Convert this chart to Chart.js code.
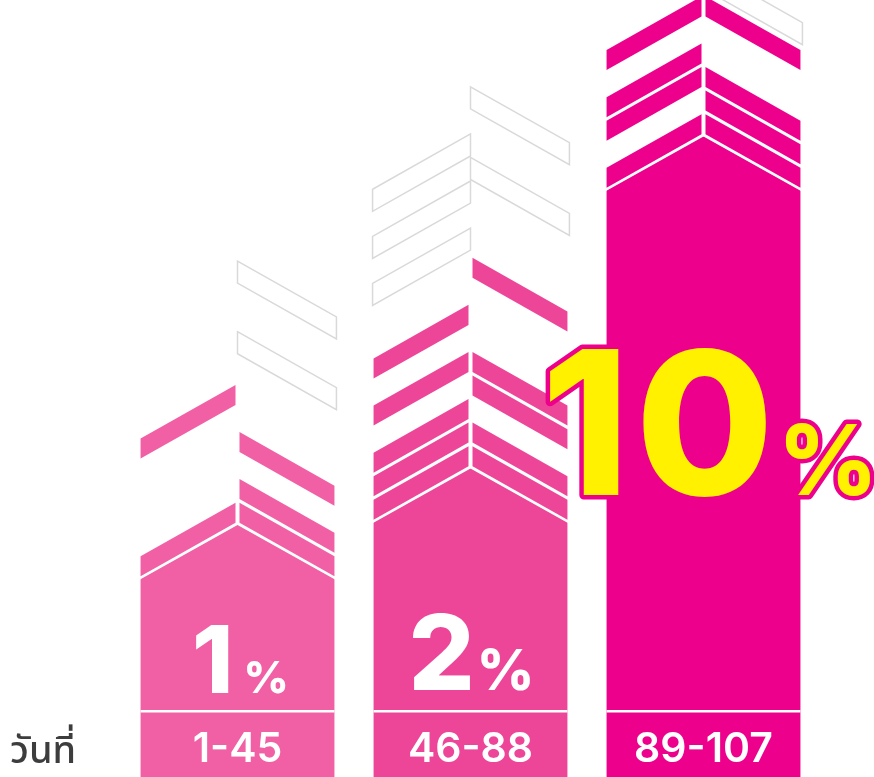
<!DOCTYPE html>
<html>
<head>
<meta charset="utf-8">
<script src="https://cdn.jsdelivr.net/npm/chart.js@4"></script>
<style>
  html, body { margin: 0; padding: 0; background: #fff; }
  #wrap { width: 874px; height: 777px; position: relative; }
</style>
</head>
<body>
<div id="wrap"><canvas id="chart" width="874" height="777"></canvas></div>
<script>
// Day ranges (categories) and the discount printed on each column
const dayRanges = ['1-45', '46-88', '89-107'];
const discounts = [1, 2, 10];
// Height of each solid column up to its chevron peak, in stripe units
const columnLevels = [10.7, 13.1, 27.2];
// Chevron stripes stacked above the peak (1 = first stripe above it)
const leftFilled = [[1, 6], [1, 2, 3, 5, 7], [1, 3, 4, 6]];
const rightFilled = [[1, 2, 4], [1, 2, 4, 5, 9], [1, 2, 3, 6]];
const leftEmpty = [[], [10, 12, 14], []];
const rightEmpty = [[8, 11], [13, 16], [7]];
const axisTitle = 'วันที่';

const colors = ['#F15FA4', '#ED4699', '#EC008C'];
const badgeStyle = [
  { num: 94, pct: 44, gap: 10, lift: 84, dx: 3, spacing: 0, fill: '#fff' },
  { num: 104, pct: 56, gap: 2, lift: 87, dx: 1, spacing: 0, fill: '#fff' },
  { num: 200, pct: 97, gap: 4, lift: 282, dx: 6, spacing: 6, fill: '#FFF100', stroke: '#EC008C' }
];
const SLOPE = 0.565;

function halfStripe(ctx, xc, xe, top, h, inset) {
  const dir = xe < xc ? -1 : 1;
  const x0 = xc + dir * inset;
  const d0 = SLOPE * inset, d1 = SLOPE * Math.abs(xe - xc);
  ctx.beginPath();
  ctx.moveTo(x0, top + d0);
  ctx.lineTo(xe, top + d1);
  ctx.lineTo(xe, top + d1 + h);
  ctx.lineTo(x0, top + d0 + h);
  ctx.closePath();
}

function drawBadge(ctx, i, cx, base) {
  const st = badgeStyle[i];
  const txt = String(discounts[i]);
  ctx.letterSpacing = st.spacing + 'px';
  ctx.font = `800 ${st.num}px Inter`;
  const wn = ctx.measureText(txt).width - st.spacing;
  ctx.letterSpacing = '0px';
  ctx.font = `800 ${st.pct}px Inter`;
  const wp = ctx.measureText('%').width;
  const x = cx - (wn + st.gap + wp) / 2 + st.dx;
  const y = base - st.lift;
  ctx.textAlign = 'left';
  ctx.textBaseline = 'alphabetic';
  const parts = [[txt, st.num, x, st.spacing], ['%', st.pct, x + wn + st.gap, 0]];
  if (st.stroke) {
    ctx.lineJoin = 'round';
    ctx.lineWidth = 9;
    ctx.strokeStyle = st.stroke;
    parts.forEach(([t, s, px, sp]) => {
      ctx.letterSpacing = sp + 'px';
      ctx.font = `800 ${s}px Inter`;
      ctx.strokeText(t, px, y);
    });
  }
  ctx.fillStyle = st.fill;
  parts.forEach(([t, s, px, sp]) => {
    ctx.letterSpacing = sp + 'px';
    ctx.font = `800 ${s}px Inter`;
    ctx.fillText(t, px, y);
  });
  ctx.letterSpacing = '0px';
}

const chevronPlugin = {
  id: 'chevrons',
  afterDatasetsDraw(chart) {
    const ctx = chart.ctx;
    const yScale = chart.scales.y;
    const unit = yScale.getPixelForValue(0) - yScale.getPixelForValue(1);
    const thick = unit * 0.85;
    const meta = chart.getDatasetMeta(0);
    ctx.save();
    meta.data.forEach((bar, i) => {
      const xc = bar.x, hw = bar.width / 2;
      const xl = xc - hw, xr = xc + hw;
      const peak = bar.y, base = bar.base;
      const drop = SLOPE * hw;
      // cut the chevron roof out of the column
      ctx.fillStyle = '#fff';
      ctx.beginPath();
      ctx.moveTo(xl - 1, peak - 2);
      ctx.lineTo(xr + 1, peak - 2);
      ctx.lineTo(xr + 1, peak + drop);
      ctx.lineTo(xc, peak);
      ctx.lineTo(xl - 1, peak + drop);
      ctx.closePath();
      ctx.fill();
      // filled stripes
      ctx.fillStyle = colors[i];
      leftFilled[i].forEach(k => {
        halfStripe(ctx, xc, xl, peak - k * unit, thick, 2);
        ctx.fill();
      });
      rightFilled[i].forEach(k => {
        halfStripe(ctx, xc, xr, peak - k * unit, thick, 2);
        ctx.fill();
      });
      // empty (outlined) stripes
      ctx.strokeStyle = '#D9D9D9';
      ctx.lineWidth = 1.5;
      leftEmpty[i].forEach(k => {
        halfStripe(ctx, xc, xl - 1, peak - k * unit - 5, unit - 1.5, 0);
        ctx.stroke();
      });
      rightEmpty[i].forEach(k => {
        halfStripe(ctx, xc, xr + 2, peak - k * unit - 5, unit - 1.5, 0);
        ctx.stroke();
      });
      // separator above the day label strip
      ctx.fillStyle = '#fff';
      ctx.fillRect(xl, base - 67, bar.width, 2.5);
      // day range
      ctx.font = '600 41px Inter';
      ctx.textAlign = 'center';
      ctx.textBaseline = 'alphabetic';
      ctx.fillText(chart.data.labels[i], xc, base - 15);
      drawBadge(ctx, i, xc, base);
    });
    // axis caption
    ctx.fillStyle = '#3D3D3D';
    ctx.font = '500 38px "Noto Sans Thai", "Noto Sans", sans-serif';
    ctx.textAlign = 'left';
    ctx.fillText(axisTitle, 10, chart.chartArea.bottom - 14);
    ctx.restore();
  }
};

new Chart(document.getElementById('chart'), {
  type: 'bar',
  data: {
    labels: dayRanges,
    datasets: [{
      data: columnLevels,
      backgroundColor: colors,
      borderWidth: 0,
      barPercentage: 0.832,
      categoryPercentage: 1
    }]
  },
  options: {
    responsive: false,
    animation: false,
    layout: { padding: { left: 121, right: 54, top: 0, bottom: 0 } },
    plugins: { legend: { display: false }, tooltip: { enabled: false } },
    scales: {
      x: { display: false },
      y: { display: false, min: 0, max: 33 }
    }
  },
  plugins: [chevronPlugin]
});
</script>
</body>
</html>
